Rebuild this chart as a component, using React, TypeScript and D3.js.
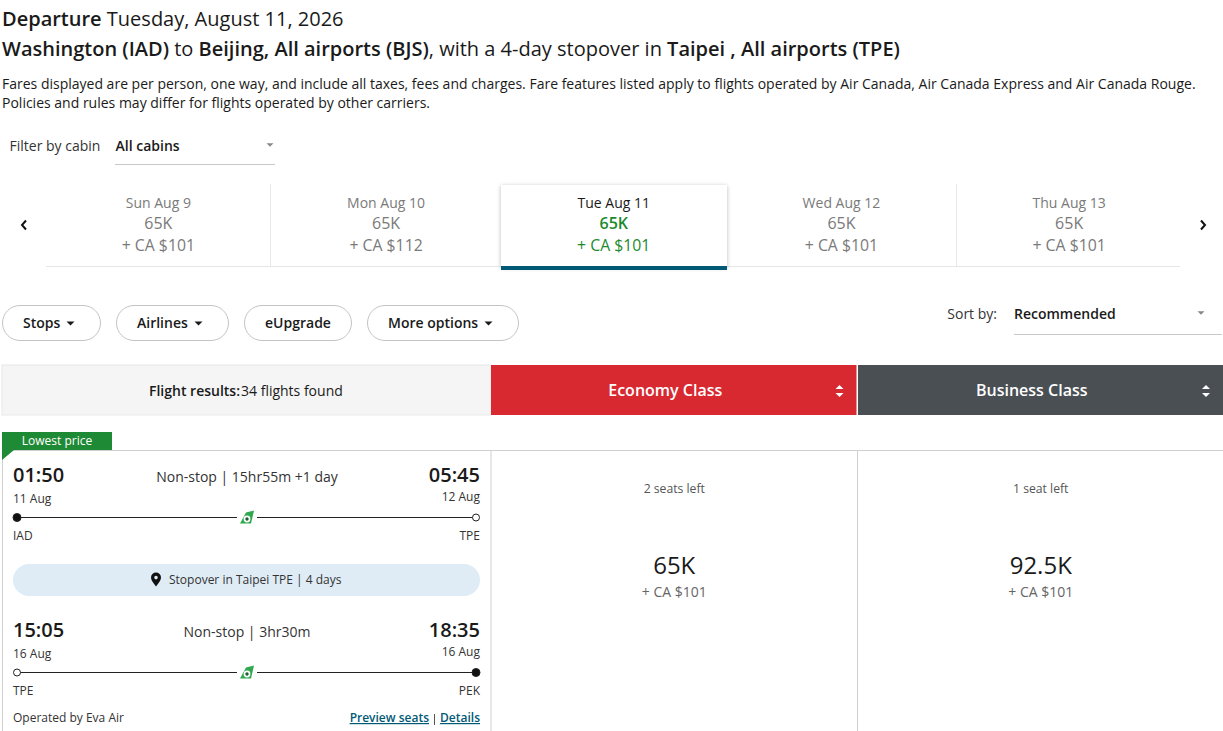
import React from "react";
import * as d3 from "d3";

const tabDays = ["Sun Aug 9", "Mon Aug 10", "Tue Aug 11", "Wed Aug 12", "Thu Aug 13"];
const tabMiles = ["65K", "65K", "65K", "65K", "65K"];
const tabFares = [101, 112, 101, 101, 101];
const selectedDay = "Tue Aug 11";
const tabDividers = [270.5, 956.5];
const filterPills = ["Stops", "Airlines", "eUpgrade", "More options"];
const pillEdges = [[2, 101], [116, 229], [244, 352], [367, 519]];
const pillCaret = [true, true, false, true];
const cabins = ["Economy Class", "Business Class"];
const cabinColors = ["#d82830", "#4a4f54"];
const seatsLeft = ["2 seats left", "1 seat left"];
const cabinMiles = ["65K", "92.5K"];
const cabinFares = [101, 101];
const legs = [
  { dep: "01:50", arr: "05:45", depDate: "11 Aug", arrDate: "12 Aug", from: "IAD", to: "TPE", info: "Non-stop | 15hr55m +1 day", fromFilled: true, toFilled: false },
  { dep: "15:05", arr: "18:35", depDate: "16 Aug", arrDate: "16 Aug", from: "TPE", to: "PEK", info: "Non-stop | 3hr30m", fromFilled: false, toFilled: true },
];
const legY = [475, 630];

const FONT = "'Open Sans', sans-serif";
const INK = "#1a1a1a";
const GREY = "#7a7a7a";
const GREEN = "#1c8a2e";

const tabX = d3.scaleBand<string>().domain(tabDays).range([44.5, 1183]);
const cabinX = d3.scaleBand<string>().domain(cabins).range([491, 1224]);
const fare = (v: number) => `+ CA $${v}`;

function Caret({ x, y, s = 4, fill = INK }: { x: number; y: number; s?: number; fill?: string }) {
  return <path d={`M${x - s},${y - s / 2}L${x + s},${y - s / 2}L${x},${y + s / 2}Z`} fill={fill} />;
}

function Tail({ x, y }: { x: number; y: number }) {
  return (
    <g transform={`translate(${x},${y})`}>
      <rect x={-10} y={-7} width={20} height={14} fill="#fff" />
      <path d="M-7,6L-1,-5L7,-7L4,6Z" fill="#2fa84f" />
      <circle cx={0} cy={1.5} r={3.4} fill="#fff" />
      <circle cx={0} cy={1.5} r={1.7} fill="#1d5c33" />
    </g>
  );
}

function Leg({ leg, y }: { leg: (typeof legs)[number]; y: number }) {
  const lineY = y + 42.5;
  return (
    <g>
      <text x={13} y={y + 7} fontSize={20} fontWeight={600} fill={INK}>{leg.dep}</text>
      <text x={480} y={y + 7} fontSize={20} fontWeight={600} fill={INK} textAnchor="end">{leg.arr}</text>
      <text x={247} y={y + 7} fontSize={14} fill="#333" textAnchor="middle">{leg.info}</text>
      <text x={13} y={y + 28} fontSize={12} fill="#333">{leg.depDate}</text>
      <text x={480} y={y + 26} fontSize={12} fill="#333" textAnchor="end">{leg.arrDate}</text>
      <line x1={17} x2={476} y1={lineY} y2={lineY} stroke="#222" strokeWidth={1} />
      <circle cx={17} cy={lineY} r={leg.fromFilled ? 4 : 3.5} fill={leg.fromFilled ? "#111" : "#fff"} stroke="#222" />
      <circle cx={476} cy={lineY} r={leg.toFilled ? 4 : 3.5} fill={leg.toFilled ? "#111" : "#fff"} stroke="#222" />
      <Tail x={247} y={lineY} />
      <text x={13} y={y + 65} fontSize={12} fill="#333">{leg.from}</text>
      <text x={480} y={y + 65} fontSize={12} fill="#333" textAnchor="end">{leg.to}</text>
    </g>
  );
}

export default function App() {
  return (
    <svg width={1223} height={731} viewBox="0 0 1223 731" style={{ position: "absolute", left: 0, top: 0, background: "#fff" }} fontFamily={FONT}>
      <defs>
        <filter id="tabShadow" x="-10%" y="-10%" width="120%" height="120%">
          <feDropShadow dx={0} dy={1} stdDeviation={2} floodColor="#000" floodOpacity={0.28} />
        </filter>
      </defs>
      <text x={2} y={26} fontSize={20} fill={INK}><tspan fontWeight={600}>Departure</tspan> Tuesday, August 11, 2026</text>
      <text x={2} y={56} fontSize={20} fill={INK}>
        <tspan fontWeight={600}>Washington (IAD)</tspan> to <tspan fontWeight={600}>Beijing, All airports (BJS)</tspan>, with a 4-day stopover in <tspan fontWeight={600}>Taipei , All airports (TPE)</tspan>
      </text>
      <text x={2} y={89} fontSize={14} fill={INK}>Fares displayed are per person, one way, and include all taxes, fees and charges. Fare features listed apply to flights operated by Air Canada, Air Canada Express and Air Canada Rouge.</text>
      <text x={2} y={108} fontSize={14} fill={INK}>Policies and rules may differ for flights operated by other carriers.</text>

      <text x={9.5} y={151} fontSize={14} fill="#333">Filter by cabin</text>
      <text x={115.5} y={151} fontSize={14} fontWeight={600} fill={INK}>All cabins</text>
      <line x1={115} x2={275} y1={164.5} y2={164.5} stroke="#c8c8c8" />
      <Caret x={270} y={145} s={3.5} fill="#888" />

      <line x1={46} x2={1180} y1={266.5} y2={266.5} stroke="#e6e6e6" />
      {tabDividers.map((x) => (
        <line key={x} x1={x} x2={x} y1={184} y2={266} stroke="#e8e8e8" />
      ))}
      {tabDays.map((d, i) => {
        const sel = d === selectedDay;
        const x = tabX(d)!;
        const w = tabX.bandwidth();
        const cx = x + w / 2;
        return (
          <g key={d}>
            {sel && (
              <g>
                <rect x={501} y={185} width={226} height={82} fill="#fff" filter="url(#tabShadow)" />
                <rect x={501} y={266} width={226} height={4} fill="#005a76" />
              </g>
            )}
            <text x={cx} y={208} fontSize={14} textAnchor="middle" fill={sel ? INK : GREY}>{d}</text>
            <text x={cx} y={229} fontSize={16} fontWeight={sel ? 600 : 400} textAnchor="middle" fill={sel ? GREEN : GREY}>{tabMiles[i]}</text>
            <text x={cx} y={251} fontSize={15.8} textAnchor="middle" fill={sel ? GREEN : GREY}>{fare(tabFares[i])}</text>
          </g>
        );
      })}
      <path d="M26,220.5L22,225L26,229.5" fill="none" stroke="#111" strokeWidth={2} />
      <path d="M1201,220.5L1205,225L1201,229.5" fill="none" stroke="#111" strokeWidth={2} />

      {filterPills.map((p, i) => {
        const [a, b] = pillEdges[i];
        const caret = pillCaret[i];
        return (
          <g key={p}>
            <rect x={a + 0.5} y={305.5} width={b - a - 1} height={35} rx={17.5} fill="#fff" stroke="#c4c4c4" />
            <text x={caret ? a + 21 : (a + b) / 2} y={328} fontSize={14} fontWeight={600} textAnchor={caret ? "start" : "middle"} fill={INK}>{p}</text>
            {caret && <Caret x={b - 30.5} y={323.5} s={4} />}
          </g>
        );
      })}

      <text x={997} y={319} fontSize={14} fill="#333" textAnchor="end">Sort by:</text>
      <text x={1014} y={319} fontSize={14} fontWeight={600} fill={INK}>Recommended</text>
      <line x1={1014} x2={1222} y1={334.5} y2={334.5} stroke="#c8c8c8" />
      <Caret x={1201} y={313} s={3.5} fill="#888" />

      <rect x={2} y={365} width={489} height={50} fill="#f5f5f5" stroke="#e8e8e8" />
      <text x={149} y={396} fontSize={14} fill={INK}><tspan fontWeight={600}>Flight results:</tspan><tspan dx={1}>34 flights found</tspan></text>
      {cabins.map((c, i) => {
        const x = cabinX(c)!;
        const w = cabinX.bandwidth();
        const cx = x + w / 2;
        return (
          <g key={c}>
            <rect x={Math.ceil(x)} y={365} width={Math.floor(w) - 0.5} height={50} fill={cabinColors[i]} />
            <text x={cx - 9} y={396} fontSize={16} fontWeight={600} fill="#fff" textAnchor="middle">{c}</text>
            <path d={`M${x + w - 22},389L${x + w - 18},385L${x + w - 14},389Z M${x + w - 22},393L${x + w - 18},397L${x + w - 14},393Z`} fill="#fff" />
            <text x={cx} y={493} fontSize={12.2} fill="#555" textAnchor="middle">{seatsLeft[i]}</text>
            <text x={cx} y={574} fontSize={24} fill={INK} textAnchor="middle">{cabinMiles[i]}</text>
            <text x={cx} y={597} fontSize={14} fill="#666" textAnchor="middle">{fare(cabinFares[i])}</text>
          </g>
        );
      })}

      <line x1={2} x2={1223} y1={450.5} y2={450.5} stroke="#cfcfcf" />
      <line x1={2.5} x2={2.5} y1={450} y2={731} stroke="#cfcfcf" />
      <line x1={491} x2={491} y1={450} y2={731} stroke="#cfcfcf" />
      <line x1={857.5} x2={857.5} y1={450} y2={731} stroke="#cfcfcf" />
      <path d="M2,432H112V450H14L2,460Z" fill="#1f8a36" />
      <text x={57} y={445} fontSize={12} textAnchor="middle" fill="#fff">Lowest price</text>

      {legs.map((l, i) => <Leg key={l.dep} leg={l} y={legY[i]} />)}

      <rect x={13} y={564} width={467} height={32} rx={16} fill="#dfecf5" />
      <path d="M156,586.5C153,582.5 151,580 151,577.5A5,5 0 0 1 161,577.5C161,580 159,582.5 156,586.5Z M156,579.4A1.8,1.8 0 1 0 156,575.8A1.8,1.8 0 1 0 156,579.4Z" fill="#111" fillRule="evenodd" />
      <text x={169} y={584} fontSize={12} fill="#333">Stopover in Taipei TPE | 4 days</text>

      <text x={13} y={722} fontSize={12} fill="#333">Operated by Eva Air</text>
      <text x={429} y={722} fontSize={12} fontWeight={600} textAnchor="end" fill="#005a76" textDecoration="underline">Preview seats</text>
      <line x1={434.5} x2={434.5} y1={714} y2={725} stroke="#555" />
      <text x={480} y={722} fontSize={12} fontWeight={600} textAnchor="end" fill="#005a76" textDecoration="underline">Details</text>
    </svg>
  );
}
